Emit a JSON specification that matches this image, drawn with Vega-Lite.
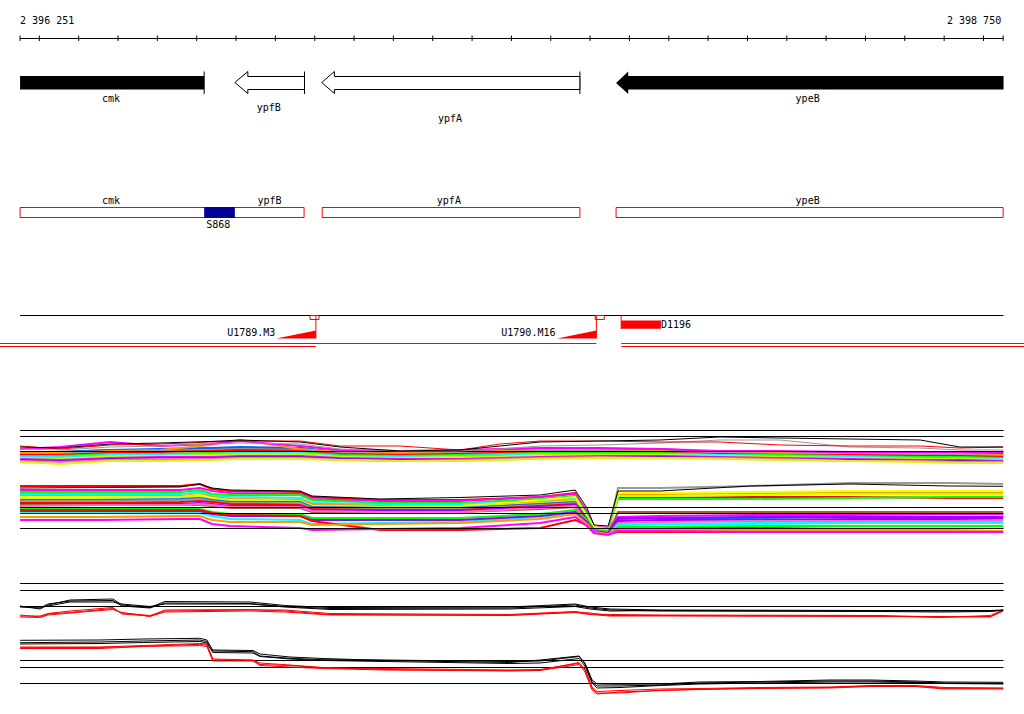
{
"$schema": "https://vega.github.io/schema/vega-lite/v6.json",
"width": 1024, "height": 714, "padding": 0, "autosize": {"type": "none"},
"background": "#ffffff",
"config": {"view": {"stroke": null}},
"datasets": {
"kr": [{"a":2396251,"b":2398750,"y0":38.5,"y1":38.5},
{"a":2396251,"b":2396251,"y0":35.5,"y1":41},{"a":2396300,"b":2396300,"y0":35.5,"y1":41},{"a":2396400,"b":2396400,"y0":35.5,"y1":41},{"a":2396500,"b":2396500,"y0":35.5,"y1":41},{"a":2396600,"b":2396600,"y0":35.5,"y1":41},{"a":2396700,"b":2396700,"y0":35.5,"y1":41},{"a":2396800,"b":2396800,"y0":35.5,"y1":41},{"a":2396900,"b":2396900,"y0":35.5,"y1":41},{"a":2397000,"b":2397000,"y0":35.5,"y1":41},{"a":2397100,"b":2397100,"y0":35.5,"y1":41},{"a":2397200,"b":2397200,"y0":35.5,"y1":41},{"a":2397300,"b":2397300,"y0":35.5,"y1":41},{"a":2397400,"b":2397400,"y0":35.5,"y1":41},{"a":2397500,"b":2397500,"y0":35.5,"y1":41},{"a":2397600,"b":2397600,"y0":35.5,"y1":41},{"a":2397700,"b":2397700,"y0":35.5,"y1":41},{"a":2397800,"b":2397800,"y0":35.5,"y1":41},{"a":2397900,"b":2397900,"y0":35.5,"y1":41},{"a":2398000,"b":2398000,"y0":35.5,"y1":41},{"a":2398100,"b":2398100,"y0":35.5,"y1":41},{"a":2398200,"b":2398200,"y0":35.5,"y1":41},{"a":2398300,"b":2398300,"y0":35.5,"y1":41},{"a":2398400,"b":2398400,"y0":35.5,"y1":41},{"a":2398500,"b":2398500,"y0":35.5,"y1":41},{"a":2398600,"b":2398600,"y0":35.5,"y1":41},{"a":2398700,"b":2398700,"y0":35.5,"y1":41},{"a":2398750,"b":2398750,"y0":35.5,"y1":41},
{"a":2396719,"b":2396719,"y0":71.5,"y1":94},{"a":2396974,"b":2396974,"y0":71.5,"y1":94},{"a":2397674,"b":2397674,"y0":71.5,"y1":94},
{"a":2396251,"b":2398751,"y0":315.5,"y1":315.5}],
"rr": [{"a":2397003,"b":2397003,"y0":315.5,"y1":338.5},{"a":2397716,"b":2397716,"y0":315.5,"y1":338.5},{"a":2397779,"b":2397779,"y0":315.5,"y1":329},
{"a":2396200,"b":2397716,"y0":343.5,"y1":343.5},{"a":2396200,"b":2397003,"y0":346.5,"y1":346.5},{"a":2397779,"b":2398803,"y0":343.5,"y1":343.5},{"a":2397779,"b":2398803,"y0":346.5,"y1":346.5}],
"hl": [{"a":2396251,"b":2398751,"y0":430.5,"y1":430.5},{"a":2396251,"b":2398751,"y0":436.5,"y1":436.5},{"a":2396251,"b":2398751,"y0":451.5,"y1":451.5},{"a":2396251,"b":2398751,"y0":507.5,"y1":507.5},{"a":2396251,"b":2398751,"y0":513.5,"y1":513.5},{"a":2396251,"b":2398751,"y0":528.5,"y1":528.5},{"a":2396251,"b":2398751,"y0":583.5,"y1":583.5},{"a":2396251,"b":2398751,"y0":590.5,"y1":590.5},{"a":2396251,"b":2398751,"y0":606.5,"y1":606.5},{"a":2396251,"b":2398751,"y0":660.5,"y1":660.5},{"a":2396251,"b":2398751,"y0":667.5,"y1":667.5},{"a":2396251,"b":2398751,"y0":683.5,"y1":683.5}],
"labc": [{"t":"cmk","pos":2396482,"row":101.5},{"t":"ypfB","pos":2396883,"row":110.5},{"t":"ypfA","pos":2397344,"row":121.5},{"t":"ypeB","pos":2398253,"row":101.5},{"t":"cmk","pos":2396482,"row":204},{"t":"ypfB","pos":2396885,"row":204},{"t":"ypfA","pos":2397341,"row":204},{"t":"ypeB","pos":2398253,"row":204},{"t":"S868","pos":2396755,"row":227.5}],
"labl": [{"t":"2 396 251","pos":2396251,"row":24},{"t":"D1196","pos":2397880,"row":327.7}],
"labr": [{"t":"U1789.M3","pos":2396900,"row":336},{"t":"U1790.M16","pos":2397612,"row":336},{"t":"2 398 750","pos":2398745,"row":24}],
"arrows": [
{"g":"ypfB","k":0,"pos":2396797,"top":82.5,"bot":82.5},{"g":"ypfB","k":1,"pos":2396830,"top":71.5,"bot":93.5},{"g":"ypfB","k":2,"pos":2396830,"top":76.5,"bot":89.5},{"g":"ypfB","k":3,"pos":2396974,"top":76.5,"bot":89.5},
{"g":"ypfA","k":0,"pos":2397018,"top":82.5,"bot":82.5},{"g":"ypfA","k":1,"pos":2397050,"top":71.5,"bot":93.5},{"g":"ypfA","k":2,"pos":2397050,"top":76.5,"bot":89.5},{"g":"ypfA","k":3,"pos":2397674,"top":76.5,"bot":89.5}],
"arrowf": [{"g":"ypeB","k":0,"pos":2397766,"top":83,"bot":83},{"g":"ypeB","k":1,"pos":2397797,"top":71.5,"bot":94},{"g":"ypeB","k":2,"pos":2397797,"top":76,"bot":89.5},{"g":"ypeB","k":3,"pos":2398751,"top":76,"bot":89.5}],
"ub": [
{"pos":2396251,"kt":447,"rt":446,"gt":449,"b1":449,"b2":452,"b3":453,"b4":454,"b5":455,"b6":456,"b7":457,"b8":458,"b9":459,"b10":460,"b11":462,"b12":461,"b13":453},
{"pos":2396353,"kt":448,"rt":449,"gt":450,"b1":447,"b2":452,"b3":453,"b4":454,"b5":455,"b6":456,"b7":457,"b8":459,"b9":460,"b10":461,"b11":464,"b12":462,"b13":452},
{"pos":2396480,"kt":444,"rt":445,"gt":447,"b1":442,"b2":450,"b3":451,"b4":452,"b5":453,"b6":454,"b7":455,"b8":456,"b9":458,"b10":459,"b11":461,"b12":460,"b13":450},
{"pos":2396607,"kt":443,"rt":444,"gt":446,"b1":446,"b2":449,"b3":450,"b4":451,"b5":452,"b6":454,"b7":455,"b8":456,"b9":457,"b10":458,"b11":461,"b12":459,"b13":450},
{"pos":2396734,"kt":441.5,"rt":442,"gt":444,"b1":444,"b2":448,"b3":445,"b4":450,"b5":451,"b6":453,"b7":454,"b8":455,"b9":457,"b10":458,"b11":460,"b12":459,"b13":448},
{"pos":2396810,"kt":440,"rt":441,"gt":443,"b1":441,"b2":447,"b3":440,"b4":449,"b5":450,"b6":452,"b7":453,"b8":454,"b9":456,"b10":457,"b11":459,"b12":458,"b13":448},
{"pos":2396963,"kt":442,"rt":441,"gt":444,"b1":446,"b2":448,"b3":449,"b4":450,"b5":451,"b6":452,"b7":453,"b8":454,"b9":456,"b10":457,"b11":459,"b12":458,"b13":448},
{"pos":2397064,"kt":447,"rt":446,"gt":449,"b1":450,"b2":452,"b3":452,"b4":453,"b5":454,"b6":455,"b7":456,"b8":457,"b9":458,"b10":459,"b11":460,"b12":460,"b13":453},
{"pos":2397217,"kt":451,"rt":446,"gt":451,"b1":451,"b2":452,"b3":453,"b4":454,"b5":455,"b6":456,"b7":457,"b8":458,"b9":459,"b10":460,"b11":461,"b12":461,"b13":452},
{"pos":2397369,"kt":450,"rt":450,"gt":451,"b1":450,"b2":451,"b3":452,"b4":453,"b5":454,"b6":455,"b7":456,"b8":457,"b9":459,"b10":460,"b11":461,"b12":460,"b13":452},
{"pos":2397471,"kt":446,"rt":444,"gt":449,"b1":449,"b2":450,"b3":451,"b4":452,"b5":453,"b6":454,"b7":455,"b8":457,"b9":458,"b10":459,"b11":460,"b12":459,"b13":450},
{"pos":2397573,"kt":442,"rt":441,"gt":446,"b1":448,"b2":449,"b3":450,"b4":451,"b5":452,"b6":453,"b7":454,"b8":455,"b9":457,"b10":458,"b11":459,"b12":458,"b13":450},
{"pos":2397725,"kt":441,"rt":441,"gt":445,"b1":448,"b2":449,"b3":450,"b4":451,"b5":452,"b6":453,"b7":454,"b8":455,"b9":456,"b10":457,"b11":458,"b12":457,"b13":450},
{"pos":2397878,"kt":440,"rt":442,"gt":443,"b1":449,"b2":450,"b3":451,"b4":452,"b5":453,"b6":453,"b7":454,"b8":455,"b9":456,"b10":457,"b11":458,"b12":458,"b13":449},
{"pos":2398030,"kt":437,"rt":442,"gt":440,"b1":451,"b2":452,"b3":453,"b4":453,"b5":454,"b6":455,"b7":455,"b8":456,"b9":457,"b10":458,"b11":459,"b12":458,"b13":452},
{"pos":2398183,"kt":438,"rt":445,"gt":440,"b1":451,"b2":452,"b3":453,"b4":454,"b5":455,"b6":455,"b7":456,"b8":457,"b9":458,"b10":459,"b11":460,"b12":459,"b13":453},
{"pos":2398361,"kt":439,"rt":446,"gt":447,"b1":452,"b2":453,"b3":454,"b4":455,"b5":455,"b6":456,"b7":457,"b8":458,"b9":459,"b10":460,"b11":461,"b12":461,"b13":452},
{"pos":2398539,"kt":440,"rt":446,"gt":448,"b1":452,"b2":453,"b3":454,"b4":455,"b5":456,"b6":457,"b7":458,"b8":459,"b9":460,"b10":461,"b11":462,"b12":461,"b13":453},
{"pos":2398640,"kt":447,"rt":448,"gt":450,"b1":452,"b2":453,"b3":454,"b4":455,"b5":456,"b6":457,"b7":458,"b8":459,"b9":460,"b10":461,"b11":463,"b12":462,"b13":454},
{"pos":2398750,"kt":447,"rt":447,"gt":450,"b1":452,"b2":454,"b3":455,"b4":456,"b5":457,"b6":458,"b7":459,"b8":460,"b9":461,"b10":462,"b11":463,"b12":462,"b13":454}],
"lb": [
{"pos":2396251,"k":488,"L1":486,"c1":490,"c2":492,"c3":494,"c4":496,"c5":498,"c6":500,"c7":501,"c8":503,"c9":504,"c10":506,"c11":505,"c12":497,"d1":509,"d2":511,"d3":517,"d4":520,"d5":513,"d6":510},
{"pos":2396454,"k":487.5,"L1":486,"c1":490,"c2":492,"c3":494,"c4":496,"c5":498,"c6":500,"c7":501,"c8":503,"c9":504,"c10":505,"c11":505,"c12":497,"d1":509,"d2":511,"d3":517,"d4":520,"d5":513,"d6":510},
{"pos":2396658,"k":487,"L1":486,"c1":490,"c2":492,"c3":494,"c4":496,"c5":497,"c6":499,"c7":500,"c8":502,"c9":504,"c10":505,"c11":505,"c12":497,"d1":509,"d2":511,"d3":516,"d4":519,"d5":513,"d6":510},
{"pos":2396708,"k":484,"L1":484,"c1":488,"c2":490,"c3":492,"c4":494,"c5":496,"c6":498,"c7":499,"c8":501,"c9":503,"c10":504,"c11":505,"c12":495,"d1":509,"d2":511,"d3":516,"d4":519,"d5":513,"d6":510},
{"pos":2396739,"k":488,"L1":489,"c1":491,"c2":494,"c3":496,"c4":497,"c5":499,"c6":500,"c7":501,"c8":502,"c9":504,"c10":505,"c11":506,"c12":498,"d1":512,"d2":514,"d3":520,"d4":524,"d5":516,"d6":513},
{"pos":2396785,"k":490,"L1":491,"c1":493,"c2":495,"c3":497,"c4":499,"c5":500,"c6":502,"c7":503,"c8":504,"c9":506,"c10":507,"c11":508,"c12":500,"d1":514,"d2":516,"d3":522,"d4":526,"d5":519,"d6":515},
{"pos":2396963,"k":491,"L1":492,"c1":494,"c2":495,"c3":498,"c4":500,"c5":501,"c6":502,"c7":503,"c8":505,"c9":506,"c10":507,"c11":508,"c12":501,"d1":514,"d2":516,"d3":522,"d4":528,"d5":520,"d6":516},
{"pos":2396993,"k":496,"L1":497,"c1":499,"c2":500,"c3":503,"c4":504,"c5":506,"c6":507,"c7":508,"c8":509,"c9":510,"c10":511,"c11":512,"c12":506,"d1":518,"d2":520,"d3":525,"d4":530,"d5":524,"d6":521},
{"pos":2397166,"k":499,"L1":500,"c1":501,"c2":503,"c3":504,"c4":506,"c5":507,"c6":508,"c7":509,"c8":510,"c9":511,"c10":512,"c11":513,"c12":507,"d1":518,"d2":520,"d3":524,"d4":529,"d5":523,"d6":530},
{"pos":2397369,"k":497.5,"L1":500,"c1":501,"c2":503,"c3":504,"c4":506,"c5":507,"c6":508,"c7":509,"c8":510,"c9":511,"c10":512,"c11":512,"c12":506,"d1":518,"d2":520,"d3":523,"d4":528,"d5":522,"d6":530},
{"pos":2397573,"k":495,"L1":497,"c1":497,"c2":499,"c3":501,"c4":502,"c5":503,"c6":504,"c7":505,"c8":506,"c9":507,"c10":508,"c11":509,"c12":500,"d1":514,"d2":516,"d3":519,"d4":523,"d5":517,"d6":528},
{"pos":2397662,"k":490,"L1":493,"c1":494,"c2":496,"c3":498,"c4":500,"c5":501,"c6":502,"c7":503,"c8":504,"c9":505,"c10":506,"c11":507,"c12":497,"d1":510,"d2":512,"d3":514,"d4":517,"d5":513,"d6":520},
{"pos":2397692,"k":508,"L1":512,"c1":512,"c2":514,"c3":516,"c4":517,"c5":518,"c6":519,"c7":520,"c8":520,"c9":521,"c10":522,"c11":522,"c12":516,"d1":520,"d2":522,"d3":524,"d4":526,"d5":523,"d6":525},
{"pos":2397710,"k":525,"L1":527,"c1":527,"c2":528,"c3":528,"c4":529,"c5":529,"c6":530,"c7":530,"c8":531,"c9":531,"c10":532,"c11":532,"c12":527,"d1":530,"d2":531,"d3":532,"d4":533,"d5":531,"d6":533},
{"pos":2397746,"k":526,"L1":528,"c1":528,"c2":530,"c3":531,"c4":531,"c5":532,"c6":532,"c7":532,"c8":533,"c9":533,"c10":534,"c11":534,"c12":529,"d1":532,"d2":533,"d3":534,"d4":535,"d5":533,"d6":534},
{"pos":2397771,"k":491,"L1":497,"c1":517,"c2":499,"c3":525,"c4":494,"c5":496,"c6":519,"c7":488,"c8":529,"c9":521,"c10":523,"c11":512,"c12":493,"d1":527,"d2":518,"d3":530,"d4":531,"d5":525,"d6":532},
{"pos":2397878,"k":491,"L1":498,"c1":516,"c2":499,"c3":524,"c4":494,"c5":496,"c6":518,"c7":488,"c8":528,"c9":520,"c10":522,"c11":512,"c12":493,"d1":527,"d2":518,"d3":530,"d4":531,"d5":524,"d6":532},
{"pos":2398107,"k":486,"L1":497,"c1":515,"c2":499,"c3":523,"c4":493,"c5":495,"c6":518,"c7":486,"c8":527,"c9":520,"c10":521,"c11":512,"c12":492,"d1":526,"d2":517,"d3":530,"d4":532,"d5":524,"d6":532},
{"pos":2398361,"k":484,"L1":497,"c1":515,"c2":498,"c3":522,"c4":492,"c5":494,"c6":517,"c7":483,"c8":526,"c9":519,"c10":521,"c11":512,"c12":491,"d1":526,"d2":517,"d3":530,"d4":532,"d5":523,"d6":532},
{"pos":2398615,"k":486,"L1":498,"c1":514,"c2":497,"c3":522,"c4":492,"c5":494,"c6":517,"c7":483,"c8":526,"c9":519,"c10":521,"c11":512,"c12":491,"d1":526,"d2":517,"d3":530,"d4":532,"d5":523,"d6":532},
{"pos":2398750,"k":486.3,"L1":498,"c1":514,"c2":497,"c3":522,"c4":492,"c5":494,"c6":517,"c7":484,"c8":526,"c9":519,"c10":520,"c11":512,"c12":491,"d1":526,"d2":517,"d3":531,"d4":532,"d5":523,"d6":532}],
"bu": [
{"pos":2396251,"k1":606,"k2":607,"k3":606.5,"r1":615,"r2":616,"r3":617},
{"pos":2396302,"k1":609,"k2":608,"k3":607,"r1":617,"r2":616,"r3":617.5},
{"pos":2396322,"k1":605,"k2":604,"k3":606,"r1":614,"r2":613.5,"r3":615},
{"pos":2396378,"k1":600,"k2":601,"k3":602,"r1":612.5,"r2":611,"r3":613},
{"pos":2396487,"k1":599,"k2":600.5,"k3":602,"r1":608.5,"r2":607.5,"r3":609.5},
{"pos":2396510,"k1":605,"k2":606,"k3":604,"r1":613,"r2":614,"r3":612.5},
{"pos":2396581,"k1":607.5,"k2":608,"k3":606.5,"r1":615.5,"r2":616,"r3":616.5},
{"pos":2396619,"k1":601.5,"k2":603,"k3":604,"r1":611,"r2":610,"r3":612},
{"pos":2396836,"k1":602,"k2":603.5,"k3":604,"r1":610,"r2":609.5,"r3":611},
{"pos":2396924,"k1":605.5,"k2":606.5,"k3":607,"r1":610,"r2":611,"r3":612},
{"pos":2397039,"k1":607.5,"k2":608.5,"k3":609.5,"r1":613.5,"r2":614.5,"r3":615},
{"pos":2397496,"k1":607,"k2":608,"k3":609,"r1":614.5,"r2":615,"r3":615.5},
{"pos":2397662,"k1":604,"k2":605,"k3":606.5,"r1":611.5,"r2":612,"r3":612.5},
{"pos":2397700,"k1":607,"k2":608,"k3":609,"r1":614,"r2":613,"r3":614.5},
{"pos":2397751,"k1":609,"k2":610,"k3":611,"r1":614.5,"r2":615.5,"r3":616},
{"pos":2397878,"k1":610,"k2":611,"k3":610.5,"r1":615,"r2":615.5,"r3":616},
{"pos":2398437,"k1":610.5,"k2":611.5,"k3":611,"r1":615.5,"r2":616,"r3":616.5},
{"pos":2398589,"k1":610.5,"k2":612,"k3":611,"r1":617,"r2":617.5,"r3":616.5},
{"pos":2398717,"k1":610.5,"k2":611.5,"k3":611,"r1":616.5,"r2":615.5,"r3":617},
{"pos":2398750,"k1":610,"k2":610,"k3":610.5,"r1":610.5,"r2":610,"r3":611}],
"bl": [
{"pos":2396251,"k4":640.3,"k5":642.7,"k6":644,"r4":647.7,"r5":648.5,"r6":647},
{"pos":2396454,"k4":640,"k5":642,"k6":643.5,"r4":647.5,"r5":648.5,"r6":647},
{"pos":2396564,"k4":639,"k5":641,"k6":642.5,"r4":646.3,"r5":646.5,"r6":645.5},
{"pos":2396708,"k4":638.3,"k5":640,"k6":641.5,"r4":644.3,"r5":645.5,"r6":643.5},
{"pos":2396726,"k4":640,"k5":641.5,"k6":643,"r4":645,"r5":646.5,"r6":644},
{"pos":2396741,"k4":651,"k5":650,"k6":652.5,"r4":660,"r5":661,"r6":659},
{"pos":2396843,"k4":651.7,"k5":650.5,"k6":653,"r4":660.3,"r5":661,"r6":660},
{"pos":2396861,"k4":656,"k5":654,"k6":656.5,"r4":664.5,"r5":665.5,"r6":663},
{"pos":2396937,"k4":658.3,"k5":657,"k6":659,"r4":665.5,"r5":667,"r6":665},
{"pos":2397021,"k4":659.7,"k5":658.5,"k6":660.5,"r4":668,"r5":668.5,"r6":667.5},
{"pos":2397179,"k4":660,"k5":660.5,"k6":661.5,"r4":668.5,"r5":670,"r6":669.5},
{"pos":2397496,"k4":661.5,"k5":662.5,"k6":663.5,"r4":670,"r5":671,"r6":670.5},
{"pos":2397573,"k4":661,"k5":660,"k6":663,"r4":669.5,"r5":670.5,"r6":670},
{"pos":2397672,"k4":656.5,"k5":656,"k6":658.5,"r4":663.3,"r5":664.5,"r6":662.5},
{"pos":2397687,"k4":663,"k5":664,"k6":666,"r4":670,"r5":672,"r6":669},
{"pos":2397705,"k4":680,"k5":682,"k6":683,"r4":688,"r5":690,"r6":687},
{"pos":2397718,"k4":684,"k5":686,"k6":688,"r4":693,"r5":694,"r6":691.5},
{"pos":2397776,"k4":684.3,"k5":686,"k6":687.5,"r4":693,"r5":692,"r6":690.5},
{"pos":2397878,"k4":684,"k5":685,"k6":685.5,"r4":690.3,"r5":690.5,"r6":689},
{"pos":2397979,"k4":682,"k5":683,"k6":684,"r4":689.3,"r5":689.5,"r6":688.5},
{"pos":2398132,"k4":681.5,"k5":682,"k6":683,"r4":688,"r5":688.5,"r6":687.5},
{"pos":2398310,"k4":680,"k5":681,"k6":682,"r4":687.5,"r5":688,"r6":687},
{"pos":2398412,"k4":680,"k5":681,"k6":682,"r4":686,"r5":686.5,"r6":685.5},
{"pos":2398526,"k4":681,"k5":682,"k6":682.5,"r4":686,"r5":686.5,"r6":685.5},
{"pos":2398602,"k4":682,"k5":683,"k6":683.5,"r4":688.3,"r5":689,"r6":687.5},
{"pos":2398750,"k4":682.3,"k5":683.5,"k6":684,"r4":688.3,"r5":689,"r6":688}]
},
"layer": [
{"data": {"name":"kr"}, "mark": {"type":"rule","color":"#000000","strokeWidth":1},
 "encoding": {"x": {"field":"a","type":"quantitative","scale":{"domain":[2396200,2398803],"nice":false,"zero":false},"axis":null}, "x2": {"field":"b"},
  "y": {"field":"y0","type":"quantitative","scale":{"domain":[0,714],"reverse":true,"nice":false,"zero":false},"axis":null}, "y2": {"field":"y1"}}},
{"data": {"name":"labl"}, "mark": {"type":"text","font":"DejaVu Sans Mono","fontSize":10,"align":"left","baseline":"alphabetic","color":"#000000"},
 "encoding": {"x": {"field":"pos","type":"quantitative","scale":{"domain":[2396200,2398803],"nice":false,"zero":false},"axis":null},
  "y": {"field":"row","type":"quantitative","scale":{"domain":[0,714],"reverse":true,"nice":false,"zero":false},"axis":null}, "text": {"field":"t","type":"nominal"}}},
{"data": {"name":"labr"}, "mark": {"type":"text","font":"DejaVu Sans Mono","fontSize":10,"align":"right","baseline":"alphabetic","color":"#000000"},
 "encoding": {"x": {"field":"pos","type":"quantitative","scale":{"domain":[2396200,2398803],"nice":false,"zero":false},"axis":null},
  "y": {"field":"row","type":"quantitative","scale":{"domain":[0,714],"reverse":true,"nice":false,"zero":false},"axis":null}, "text": {"field":"t","type":"nominal"}}},
{"data": {"name":"labc"}, "mark": {"type":"text","font":"DejaVu Sans Mono","fontSize":10,"align":"center","baseline":"alphabetic","color":"#000000"},
 "encoding": {"x": {"field":"pos","type":"quantitative","scale":{"domain":[2396200,2398803],"nice":false,"zero":false},"axis":null},
  "y": {"field":"row","type":"quantitative","scale":{"domain":[0,714],"reverse":true,"nice":false,"zero":false},"axis":null}, "text": {"field":"t","type":"nominal"}}},
{"data": {"values": [{"g":"cmk","a":2396251,"b":2396719,"y0":76,"y1":89.5}]}, "mark": {"type":"rect","color":"#000000"},
 "encoding": {"x": {"field":"a","type":"quantitative","scale":{"domain":[2396200,2398803],"nice":false,"zero":false},"axis":null}, "x2": {"field":"b"},
  "y": {"field":"y0","type":"quantitative","scale":{"domain":[0,714],"reverse":true,"nice":false,"zero":false},"axis":null}, "y2": {"field":"y1"}}},
{"data": {"name":"arrows"},
 "mark": {"type":"area","orient":"vertical","fill":"#ffffff","stroke":"#000000","strokeWidth":1},
 "encoding": {"x": {"field":"pos","type":"quantitative","scale":{"domain":[2396200,2398803],"nice":false,"zero":false},"axis":null},
  "y": {"field":"top","type":"quantitative","scale":{"domain":[0,714],"reverse":true,"nice":false,"zero":false},"axis":null}, "y2": {"field":"bot"},
  "detail": {"field":"g","type":"nominal"}}},
{"data": {"name":"arrowf"},
 "mark": {"type":"area","orient":"vertical","fill":"#000000"},
 "encoding": {"x": {"field":"pos","type":"quantitative","scale":{"domain":[2396200,2398803],"nice":false,"zero":false},"axis":null},
  "y": {"field":"top","type":"quantitative","scale":{"domain":[0,714],"reverse":true,"nice":false,"zero":false},"axis":null}, "y2": {"field":"bot"},
  "detail": {"field":"g","type":"nominal"}}},
{"data": {"values": [{"a":2396251,"b":2396973,"y0":207.5,"y1":217.5},{"a":2397019,"b":2397674,"y0":207.5,"y1":217.5},{"a":2397766,"b":2398750,"y0":207.5,"y1":217.5}]}, "mark": {"type":"rect","fill":"#ffffff","stroke":"#ff0000","strokeWidth":1},
 "encoding": {"x": {"field":"a","type":"quantitative","scale":{"domain":[2396200,2398803],"nice":false,"zero":false},"axis":null}, "x2": {"field":"b"},
  "y": {"field":"y0","type":"quantitative","scale":{"domain":[0,714],"reverse":true,"nice":false,"zero":false},"axis":null}, "y2": {"field":"y1"}}},
{"data": {"values": [{"f":"S868","a":2396719,"b":2396797,"y0":207,"y1":218}]}, "mark": {"type":"rect","fill":"#000099"},
 "encoding": {"x": {"field":"a","type":"quantitative","scale":{"domain":[2396200,2398803],"nice":false,"zero":false},"axis":null}, "x2": {"field":"b"},
  "y": {"field":"y0","type":"quantitative","scale":{"domain":[0,714],"reverse":true,"nice":false,"zero":false},"axis":null}, "y2": {"field":"y1"}}},
{"data": {"values": [{"a":2396988,"b":2397011,"y0":315.5,"y1":319.5},{"a":2397713,"b":2397736,"y0":315.5,"y1":319.5}]}, "mark": {"type":"rect","fill":"transparent","stroke":"#ff0000","strokeWidth":1},
 "encoding": {"x": {"field":"a","type":"quantitative","scale":{"domain":[2396200,2398803],"nice":false,"zero":false},"axis":null}, "x2": {"field":"b"},
  "y": {"field":"y0","type":"quantitative","scale":{"domain":[0,714],"reverse":true,"nice":false,"zero":false},"axis":null}, "y2": {"field":"y1"}}},
{"data": {"name":"rr"}, "mark": {"type":"rule","color":"#ff0000","strokeWidth":1},
 "encoding": {"x": {"field":"a","type":"quantitative","scale":{"domain":[2396200,2398803],"nice":false,"zero":false},"axis":null}, "x2": {"field":"b"},
  "y": {"field":"y0","type":"quantitative","scale":{"domain":[0,714],"reverse":true,"nice":false,"zero":false},"axis":null}, "y2": {"field":"y1"}}},
{"data": {"values": [{"g":"U1789.M3","pos":2396902,"top":338.5,"bot":338.5},{"g":"U1789.M3","pos":2397003,"top":330.5,"bot":338.5},{"g":"U1790.M16","pos":2397616,"top":338.5,"bot":338.5},{"g":"U1790.M16","pos":2397716,"top":330.5,"bot":338.5}]},
 "mark": {"type":"area","orient":"vertical","fill":"#ff0000"},
 "encoding": {"x": {"field":"pos","type":"quantitative","scale":{"domain":[2396200,2398803],"nice":false,"zero":false},"axis":null},
  "y": {"field":"top","type":"quantitative","scale":{"domain":[0,714],"reverse":true,"nice":false,"zero":false},"axis":null}, "y2": {"field":"bot"},
  "detail": {"field":"g","type":"nominal"}}},
{"data": {"values": [{"f":"D1196","a":2397779,"b":2397880,"y0":320.5,"y1":328.7}]}, "mark": {"type":"rect","fill":"#ff0000"},
 "encoding": {"x": {"field":"a","type":"quantitative","scale":{"domain":[2396200,2398803],"nice":false,"zero":false},"axis":null}, "x2": {"field":"b"},
  "y": {"field":"y0","type":"quantitative","scale":{"domain":[0,714],"reverse":true,"nice":false,"zero":false},"axis":null}, "y2": {"field":"y1"}}},
{"data": {"name":"ub"}, "transform": [{"fold":["b13","b2","b3","b4","b5","b6","b7","b8","b9","b10","b12","b11","b1"],"as":["s","v"]}],
 "mark": {"type":"line","strokeWidth":2},
 "encoding": {"x": {"field":"pos","type":"quantitative","scale":{"domain":[2396200,2398803],"nice":false,"zero":false},"axis":null},
  "y": {"field":"v","type":"quantitative","scale":{"domain":[0,714],"reverse":true,"nice":false,"zero":false},"axis":null},
  "color": {"field":"s","type":"nominal","legend":null,"scale":{"domain":["b1","b2","b3","b4","b5","b6","b7","b8","b9","b10","b11","b12","b13","L1","c1","c2","c3","c4","c5","c6","c7","c8","c9","c10","c11","c12","d1","d2","d3","d4","d5","d6","gt","rt","kt","k1","k2","k3","r1","r2","r3","k4","k5","k6","r4","r5","r6"],"range":["#ff00ff","#0066ff","#ff9900","#999999","#ff0000","#00ff00","#00ffff","#ccff00","#ff00ff","#9900ff","#ccff00","#ff66cc","#996633","#ff0000","#ff00ff","#00ff00","#00ffff","#ff9900","#ccff00","#0066ff","#999999","#ff0000","#9900ff","#ff66cc","#996633","#ffff00","#00ff00","#9900ff","#ff9900","#ff00ff","#00ffff","#ff0000","#999999","#ff0000","#000000","#000000","#000000","#000000","#ff0000","#ff0000","#ff0000","#000000","#000000","#000000","#ff0000","#ff0000","#ff0000"]}}}},
{"data": {"name":"lb"}, "transform": [{"fold":["L1","c1","c2","c3","c4","c12","c5","c6","c7","c8","c9","c11","c10","d1","d5","d2","d6","d3","d4"],"as":["s","v"]}],
 "mark": {"type":"line","strokeWidth":2},
 "encoding": {"x": {"field":"pos","type":"quantitative","scale":{"domain":[2396200,2398803],"nice":false,"zero":false},"axis":null},
  "y": {"field":"v","type":"quantitative","scale":{"domain":[0,714],"reverse":true,"nice":false,"zero":false},"axis":null},
  "color": {"field":"s","type":"nominal","legend":null,"scale":{"domain":["b1","b2","b3","b4","b5","b6","b7","b8","b9","b10","b11","b12","b13","L1","c1","c2","c3","c4","c5","c6","c7","c8","c9","c10","c11","c12","d1","d2","d3","d4","d5","d6","gt","rt","kt","k1","k2","k3","r1","r2","r3","k4","k5","k6","r4","r5","r6"],"range":["#ff00ff","#0066ff","#ff9900","#999999","#ff0000","#00ff00","#00ffff","#ccff00","#ff00ff","#9900ff","#ccff00","#ff66cc","#996633","#ff0000","#ff00ff","#00ff00","#00ffff","#ff9900","#ccff00","#0066ff","#999999","#ff0000","#9900ff","#ff66cc","#996633","#ffff00","#00ff00","#9900ff","#ff9900","#ff00ff","#00ffff","#ff0000","#999999","#ff0000","#000000","#000000","#000000","#000000","#ff0000","#ff0000","#ff0000","#000000","#000000","#000000","#ff0000","#ff0000","#ff0000"]}}}},
{"data": {"name":"hl"}, "mark": {"type":"rule","color":"#000000","strokeWidth":1},
 "encoding": {"x": {"field":"a","type":"quantitative","scale":{"domain":[2396200,2398803],"nice":false,"zero":false},"axis":null}, "x2": {"field":"b"},
  "y": {"field":"y0","type":"quantitative","scale":{"domain":[0,714],"reverse":true,"nice":false,"zero":false},"axis":null}, "y2": {"field":"y1"}}},
{"data": {"name":"ub"}, "transform": [{"fold":["gt","rt","kt"],"as":["s","v"]}],
 "mark": {"type":"line","strokeWidth":1},
 "encoding": {"x": {"field":"pos","type":"quantitative","scale":{"domain":[2396200,2398803],"nice":false,"zero":false},"axis":null},
  "y": {"field":"v","type":"quantitative","scale":{"domain":[0,714],"reverse":true,"nice":false,"zero":false},"axis":null},
  "color": {"field":"s","type":"nominal","legend":null,"scale":{"domain":["b1","b2","b3","b4","b5","b6","b7","b8","b9","b10","b11","b12","b13","L1","c1","c2","c3","c4","c5","c6","c7","c8","c9","c10","c11","c12","d1","d2","d3","d4","d5","d6","gt","rt","kt","k1","k2","k3","r1","r2","r3","k4","k5","k6","r4","r5","r6"],"range":["#ff00ff","#0066ff","#ff9900","#999999","#ff0000","#00ff00","#00ffff","#ccff00","#ff00ff","#9900ff","#ccff00","#ff66cc","#996633","#ff0000","#ff00ff","#00ff00","#00ffff","#ff9900","#ccff00","#0066ff","#999999","#ff0000","#9900ff","#ff66cc","#996633","#ffff00","#00ff00","#9900ff","#ff9900","#ff00ff","#00ffff","#ff0000","#999999","#ff0000","#000000","#000000","#000000","#000000","#ff0000","#ff0000","#ff0000","#000000","#000000","#000000","#ff0000","#ff0000","#ff0000"]}}}},
{"data": {"name":"lb"},
 "mark": {"type":"line","strokeWidth":1,"color":"#000000"},
 "encoding": {"x": {"field":"pos","type":"quantitative","scale":{"domain":[2396200,2398803],"nice":false,"zero":false},"axis":null},
  "y": {"field":"k","type":"quantitative","scale":{"domain":[0,714],"reverse":true,"nice":false,"zero":false},"axis":null}}},
{"data": {"name":"bu"}, "transform": [{"fold":["r1","r2","r3","k1","k2","k3"],"as":["s","v"]}],
 "mark": {"type":"line","strokeWidth":1},
 "encoding": {"x": {"field":"pos","type":"quantitative","scale":{"domain":[2396200,2398803],"nice":false,"zero":false},"axis":null},
  "y": {"field":"v","type":"quantitative","scale":{"domain":[0,714],"reverse":true,"nice":false,"zero":false},"axis":null},
  "color": {"field":"s","type":"nominal","legend":null,"scale":{"domain":["b1","b2","b3","b4","b5","b6","b7","b8","b9","b10","b11","b12","b13","L1","c1","c2","c3","c4","c5","c6","c7","c8","c9","c10","c11","c12","d1","d2","d3","d4","d5","d6","gt","rt","kt","k1","k2","k3","r1","r2","r3","k4","k5","k6","r4","r5","r6"],"range":["#ff00ff","#0066ff","#ff9900","#999999","#ff0000","#00ff00","#00ffff","#ccff00","#ff00ff","#9900ff","#ccff00","#ff66cc","#996633","#ff0000","#ff00ff","#00ff00","#00ffff","#ff9900","#ccff00","#0066ff","#999999","#ff0000","#9900ff","#ff66cc","#996633","#ffff00","#00ff00","#9900ff","#ff9900","#ff00ff","#00ffff","#ff0000","#999999","#ff0000","#000000","#000000","#000000","#000000","#ff0000","#ff0000","#ff0000","#000000","#000000","#000000","#ff0000","#ff0000","#ff0000"]}}}},
{"data": {"name":"bl"}, "transform": [{"fold":["r4","r5","r6","k4","k5","k6"],"as":["s","v"]}],
 "mark": {"type":"line","strokeWidth":1},
 "encoding": {"x": {"field":"pos","type":"quantitative","scale":{"domain":[2396200,2398803],"nice":false,"zero":false},"axis":null},
  "y": {"field":"v","type":"quantitative","scale":{"domain":[0,714],"reverse":true,"nice":false,"zero":false},"axis":null},
  "color": {"field":"s","type":"nominal","legend":null,"scale":{"domain":["b1","b2","b3","b4","b5","b6","b7","b8","b9","b10","b11","b12","b13","L1","c1","c2","c3","c4","c5","c6","c7","c8","c9","c10","c11","c12","d1","d2","d3","d4","d5","d6","gt","rt","kt","k1","k2","k3","r1","r2","r3","k4","k5","k6","r4","r5","r6"],"range":["#ff00ff","#0066ff","#ff9900","#999999","#ff0000","#00ff00","#00ffff","#ccff00","#ff00ff","#9900ff","#ccff00","#ff66cc","#996633","#ff0000","#ff00ff","#00ff00","#00ffff","#ff9900","#ccff00","#0066ff","#999999","#ff0000","#9900ff","#ff66cc","#996633","#ffff00","#00ff00","#9900ff","#ff9900","#ff00ff","#00ffff","#ff0000","#999999","#ff0000","#000000","#000000","#000000","#000000","#ff0000","#ff0000","#ff0000","#000000","#000000","#000000","#ff0000","#ff0000","#ff0000"]}}}}
]
}
